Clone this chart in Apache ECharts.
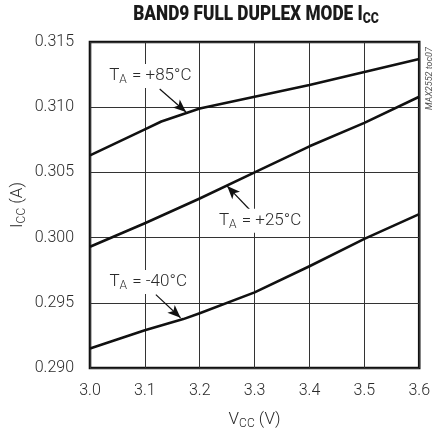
<!DOCTYPE html>
<html>
<head>
<meta charset="utf-8">
<script src="https://cdn.jsdelivr.net/npm/echarts@6/dist/echarts.min.js"></script>
<style>html,body{margin:0;padding:0;background:#fff;}#c{width:433px;height:435px;}</style>
</head>
<body>
<div id="c"></div>
<script>
// ---- data ----
const xTicks = [3.0, 3.1, 3.2, 3.3, 3.4, 3.5, 3.6];
const yTicks = [0.290, 0.295, 0.300, 0.305, 0.310, 0.315];
const t85X = [3.0, 3.1, 3.13, 3.2, 3.3, 3.4, 3.5, 3.6];
const t85Y = [0.3063, 0.3083, 0.3089, 0.3099, 0.3108, 0.3117, 0.3127, 0.3137];
const t25X = [3.0, 3.1, 3.2, 3.3, 3.4, 3.5, 3.6];
const t25Y = [0.2993, 0.3011, 0.3030, 0.3050, 0.3070, 0.3088, 0.3108];
const tm40X = [3.0, 3.1, 3.17, 3.2, 3.3, 3.4, 3.5, 3.6];
const tm40Y = [0.2915, 0.2929, 0.29375, 0.2942, 0.2958, 0.2978, 0.2999, 0.3018];
const labels = ['+85°C', '+25°C', '-40°C'];
const labelPos = [[3.11, 0.3124], [3.31, 0.3013], [3.106, 0.2966]];
const arrowFrom = [[3.127, 0.3114], [3.292, 0.3021], [3.12, 0.29563]];
const arrowTo = [[3.175, 0.30963], [3.25, 0.30395], [3.165, 0.29385]];

const FONT = "Roboto, 'DejaVu Sans Condensed', sans-serif";
const TXT = '#2a2a2a';

function zip(xs, ys) { return xs.map((x, i) => [x, ys[i]]); }

function mkSeries(name, xs, ys, idx) {
  return {
    name: name,
    type: 'line',
    data: zip(xs, ys),
    symbol: 'none',
    smooth: false,
    lineStyle: { color: '#111', width: 2.6, join: 'round' },
    z: 3,
    markLine: {
      silent: true,
      symbol: ['none', 'arrow'],
      symbolSize: [8, 13],
      lineStyle: { color: '#111', width: 1.2, type: 'solid' },
      label: { show: false },
      data: [[{ coord: arrowFrom[idx] }, { coord: arrowTo[idx] }]],
      z: 4
    },
    markPoint: {
      silent: true,
      symbol: 'rect',
      symbolSize: 0,
      data: [{ coord: labelPos[idx] }],
      label: {
        show: true,
        position: 'inside',
        formatter: '{t|T}{s|A}{t| = ' + labels[idx] + '}',
        backgroundColor: '#fff',
        padding: [2, 3, 2, 3],
        rich: {
          t: { fontFamily: FONT, fontWeight: 300, fontSize: 17, color: TXT, lineHeight: 20 },
          s: { fontFamily: FONT, fontWeight: 300, fontSize: 12, color: TXT, lineHeight: 20, verticalAlign: 'bottom', padding: [7, 1, 0, 0] }
        }
      },
      z: 5
    }
  };
}

const chart = echarts.init(document.getElementById('c'), null, { renderer: 'canvas' });
chart.setOption({
  animation: false,
  backgroundColor: '#fff',
  grid: {
    left: 90, right: 11, top: 42, bottom: 63,
    show: true, borderColor: '#111', borderWidth: 2.6, backgroundColor: 'transparent'
  },
  xAxis: {
    type: 'value',
    min: xTicks[0], max: xTicks[xTicks.length - 1], interval: 0.1,
    axisLine: { show: false },
    axisTick: { show: false },
    splitLine: { show: true, lineStyle: { color: '#333', width: 1 } },
    axisLabel: { fontFamily: FONT, fontWeight: 300, fontSize: 16, color: TXT, margin: 15, formatter: v => v.toFixed(1) },
    name: '{t|V}{s|CC}{t| (V)}',
    nameLocation: 'middle',
    nameGap: 42,
    nameMoveOverlap: false,
    nameTextStyle: {
      rich: {
        t: { fontFamily: FONT, fontWeight: 300, fontSize: 17, color: TXT, lineHeight: 20 },
        s: { fontFamily: FONT, fontWeight: 300, fontSize: 12, color: TXT, lineHeight: 20, verticalAlign: 'bottom', padding: [4, 0, 0, 0] }
      }
    }
  },
  yAxis: {
    type: 'value',
    min: yTicks[0], max: yTicks[yTicks.length - 1], interval: 0.005,
    axisLine: { show: false },
    axisTick: { show: false },
    splitLine: { show: true, lineStyle: { color: '#333', width: 1 } },
    axisLabel: { fontFamily: FONT, fontWeight: 300, fontSize: 16, color: TXT, margin: 16, formatter: v => v.toFixed(3) },
    name: '{t|I}{s|CC}{t| (A)}',
    nameLocation: 'middle',
    nameGap: 62,
    nameRotate: 90,
    nameMoveOverlap: false,
    nameTextStyle: {
      rich: {
        t: { fontFamily: FONT, fontWeight: 300, fontSize: 17, color: TXT, lineHeight: 20 },
        s: { fontFamily: FONT, fontWeight: 300, fontSize: 12, color: TXT, lineHeight: 20, verticalAlign: 'bottom', padding: [4, 0, 0, 0] }
      }
    }
  },
  graphic: [{
    type: 'text',
    x: 256, y: 15,
    scaleX: 0.82,
    style: {
      text: '{a|BAND9 FULL DUPLEX MODE I}{s|CC}',
      align: 'center',
      verticalAlign: 'middle',
      rich: {
        a: { fontFamily: FONT, fontWeight: 900, fontSize: 21, fill: '#1a1a1a', lineHeight: 24 },
        s: { fontFamily: FONT, fontWeight: 900, fontSize: 15, fill: '#1a1a1a', lineHeight: 24, verticalAlign: 'bottom', padding: [8, 0, 0, 0] }
      }
    }
  }, {
    type: 'text',
    x: 425, y: 110,
    rotation: Math.PI / 2,
    style: { text: 'MAX2552 toc07', font: 'italic 9px ' + FONT, fill: '#555', align: 'left', verticalAlign: 'top' }
  }],
  series: [
    mkSeries('+85', t85X, t85Y, 0),
    mkSeries('+25', t25X, t25Y, 1),
    mkSeries('-40', tm40X, tm40Y, 2)
  ]
});
</script>
</body>
</html>
